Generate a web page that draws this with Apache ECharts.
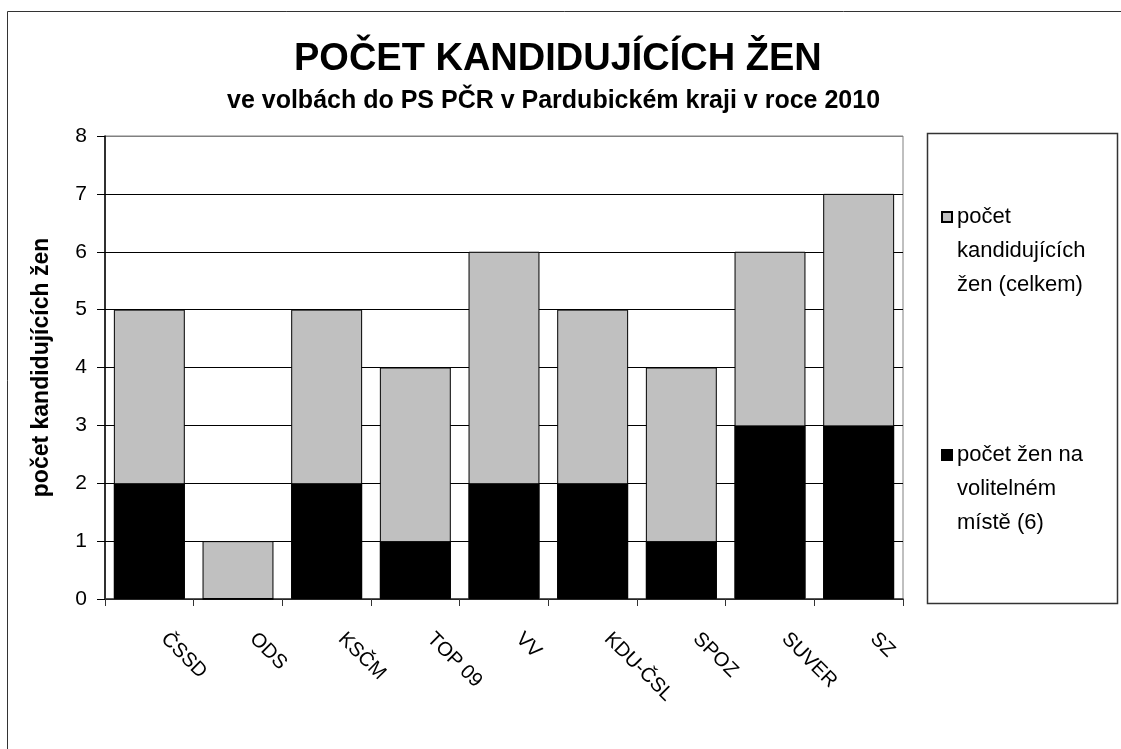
<!DOCTYPE html>
<html>
<head>
<meta charset="utf-8">
<script src="https://cdn.jsdelivr.net/npm/echarts@6/dist/echarts.min.js"></script>
<style>
  html, body { margin: 0; padding: 0; background: #fff; }
  #main { width: 1121px; height: 749px; }
</style>
</head>
<body>
<div id="main"></div>
<script>
var strany = ['ČSSD', 'ODS', 'KSČM', 'TOP 09', 'VV', 'KDU-ČSL', 'SPOZ', 'SUVER', 'SZ'];
var kandidujiciCelkem = [5, 1, 5, 4, 6, 5, 4, 6, 7];
var naVolitelnemMiste = [2, 0, 2, 1, 2, 2, 1, 3, 3];
var nazevCelkem = 'počet\nkandidujících\nžen (celkem)';
var nazevVolitelne = 'počet žen na\nvolitelném\nmístě (6)';

function draw_zeny() {
    var dom = document.getElementById('main');
    var myChart = echarts.init(dom, null, {
      renderer: 'canvas',
      useDirtyRect: false
    });

    var font = 'Arial, "Liberation Sans", sans-serif';
    // top gridline (8) is grey like the plot border, the rest black
    var gridColors = ['#000', '#000', '#000', '#000', '#000', '#000', '#000', '#000', '#808080'];
    // legend square sits at the top of a taller (empty) box so it lines up with the first text line
    var legendIcon = 'path://M0,0L10,0L10,10L0,10Z M0,78';

    var option = {
  animation: false,
  backgroundColor: '#fff',
  title: [
    {
      text: 'POČET KANDIDUJÍCÍCH ŽEN',
      left: 289,
      top: 36,
      textStyle: { fontFamily: font, fontSize: 38, fontWeight: 'bold', color: '#000' }
    },
    {
      text: 've volbách do PS PČR v Pardubickém kraji v roce 2010',
      left: 222,
      top: 84,
      textStyle: { fontFamily: font, fontSize: 25, fontWeight: 'bold', color: '#000' }
    }
  ],
  graphic: [
    {
      type: 'rect',
      shape: { x: 7.5, y: 11.5, width: 1140, height: 780 },
      style: { fill: 'none', stroke: '#333', lineWidth: 1 },
      silent: true
    },
    {
      type: 'rect',
      shape: { x: 927.5, y: 133.5, width: 190, height: 470 },
      style: { fill: '#fff', stroke: '#333', lineWidth: 1.5 },
      silent: true,
      z: -1
    }
  ],
  legend: {
    orient: 'vertical',
    left: 941,
    top: 200,
    padding: 0,
    itemGap: 136,
    itemWidth: 10,
    itemHeight: 78,
    icon: legendIcon,
    selectedMode: false,
    data: [nazevCelkem, nazevVolitelne],
    textStyle: {
      fontFamily: font,
      fontSize: 22,
      color: '#000',
      lineHeight: 34
    }
  },
  grid: {
    left: 105,
    right: 218,
    top: 136,
    bottom: 150,
    show: true,
    borderColor: '#808080',
    borderWidth: 1,
    backgroundColor: 'transparent'
  },
  xAxis: {
    type: 'category',
    data: strany,
    axisLine: { lineStyle: { color: '#333', width: 1.5 } },
    axisTick: { show: true, length: 7, lineStyle: { color: '#333' } },
    axisLabel: {
      rotate: -45,
      interval: 0,
      margin: 22,
      padding: [0, 0, 0, 21],
      fontFamily: font,
      fontSize: 20,
      color: '#000'
    }
  },
  yAxis: {
    type: 'value',
    min: 0,
    max: 8,
    interval: 1,
    name: 'počet kandidujících žen',
    nameLocation: 'middle',
    nameRotate: 90,
    nameGap: 52,
    nameTextStyle: { fontFamily: font, fontSize: 23, fontWeight: 'bold', color: '#000' },
    axisLine: { show: true, lineStyle: { color: '#000', width: 1.5 } },
    axisTick: { show: true, inside: false, length: 8, lineStyle: { color: '#000' } },
    axisLabel: { fontFamily: font, fontSize: 21, color: '#000', margin: 18 },
    splitLine: { show: true, lineStyle: { color: gridColors, width: 1 } }
  },
  series: [
    {
      name: nazevCelkem,
      type: 'bar',
      barWidth: '80%',
      barGap: '-100%',
      itemStyle: { color: '#c0c0c0', borderColor: '#000', borderWidth: 1 },
      data: kandidujiciCelkem
    },
    {
      name: nazevVolitelne,
      type: 'bar',
      barWidth: '80%',
      barGap: '-100%',
      itemStyle: { color: '#000', borderColor: '#000', borderWidth: 1 },
      data: naVolitelnemMiste
    }
  ]
};

    if (option && typeof option === 'object') {
      myChart.setOption(option);
    }

    window.addEventListener('resize', myChart.resize);
}

draw_zeny();
</script>
</body>
</html>
